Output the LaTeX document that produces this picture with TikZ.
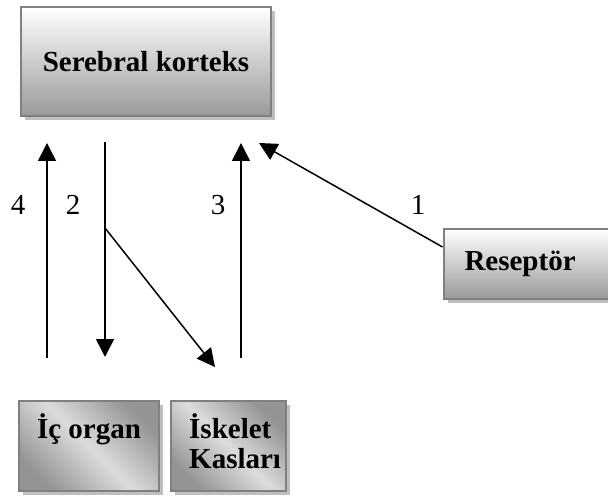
\documentclass[tikz,border=0pt]{standalone}
\usepackage{fontspec}
\setmainfont{Liberation Serif}
\usetikzlibrary{positioning,calc,arrows.meta,shadows}

\tikzset{
  box/.style={draw=black!50,line width=2pt,inner sep=0pt,
    drop shadow={shadow xshift=4pt,shadow yshift=-4pt,fill=black!25,opacity=1},
    font=\fontsize{29}{30}\selectfont\bfseries},
  upbox/.style={box,top color=white,bottom color=black!40},
  lowbox/.style={box,left color=black!42,right color=black!42,middle color=black!14,shading angle=-45},
  num/.style={inner sep=0pt,font=\fontsize{29}{30}\selectfont},
  boxtext/.style={inner sep=0pt,align=left,font=\fontsize{29}{30}\selectfont\bfseries},
  flow/.style={line width=1.5pt,-{Triangle[length=18pt,width=18pt]}}
}

\begin{document}
\begin{tikzpicture}[x=1pt,y=-1pt]
    \useasboundingbox (0,0) rectangle (608,497);

    \node (cortex) [upbox,minimum width=250pt,minimum height=109pt] at (146,61.5) {Serebral korteks};
    \node (reseptor) [upbox,minimum height=70pt,text width=136pt,inner xsep=21pt,align=left] at (532.5,264) {Reseptör};
    \node (icorgan) [lowbox,minimum width=140pt,minimum height=90pt] at (89,446) {};
    \node (iskelet) [lowbox,minimum width=115pt,minimum height=90pt] at (228.5,446) {};
    \node (icorgan-text) [boxtext,anchor=base] at ([yshift=-38pt]icorgan.north) {İç organ};
    \node (iskelet-text) [boxtext,anchor=north west] at ([xshift=19pt,yshift=-13pt]iskelet.north west) {İskelet\\Kasları};

    % free ends of the arrows
    \coordinate (ic-up) at (47,358);
    \coordinate (cortex-4) at (47,143);
    \coordinate (cortex-2) at (105,142);
    \coordinate (ic-down) at (105,357);
    \coordinate (branch) at (105,228);
    \coordinate (isk-down) at (215,367);
    \coordinate (isk-up) at (241,358);
    \coordinate (cortex-3) at (241,143);
    \coordinate (cortex-1) at (259,143);

    \draw [flow] (ic-up) -- (cortex-4);
    \draw [flow] (cortex-2) -- (ic-down);
    \draw [flow] (branch) -- (isk-down);
    \draw [flow] (isk-up) -- (cortex-3);
    \draw [flow] ([yshift=17pt]reseptor.west) -- (cortex-1);

    \node (n4) [num] at (18,205) {4};
    \node (n2) [num] at (73,205) {2};
    \node (n3) [num] at (218,205) {3};
    \node (n1) [num] at (418,205) {1};
  \end{tikzpicture}
\end{document}
